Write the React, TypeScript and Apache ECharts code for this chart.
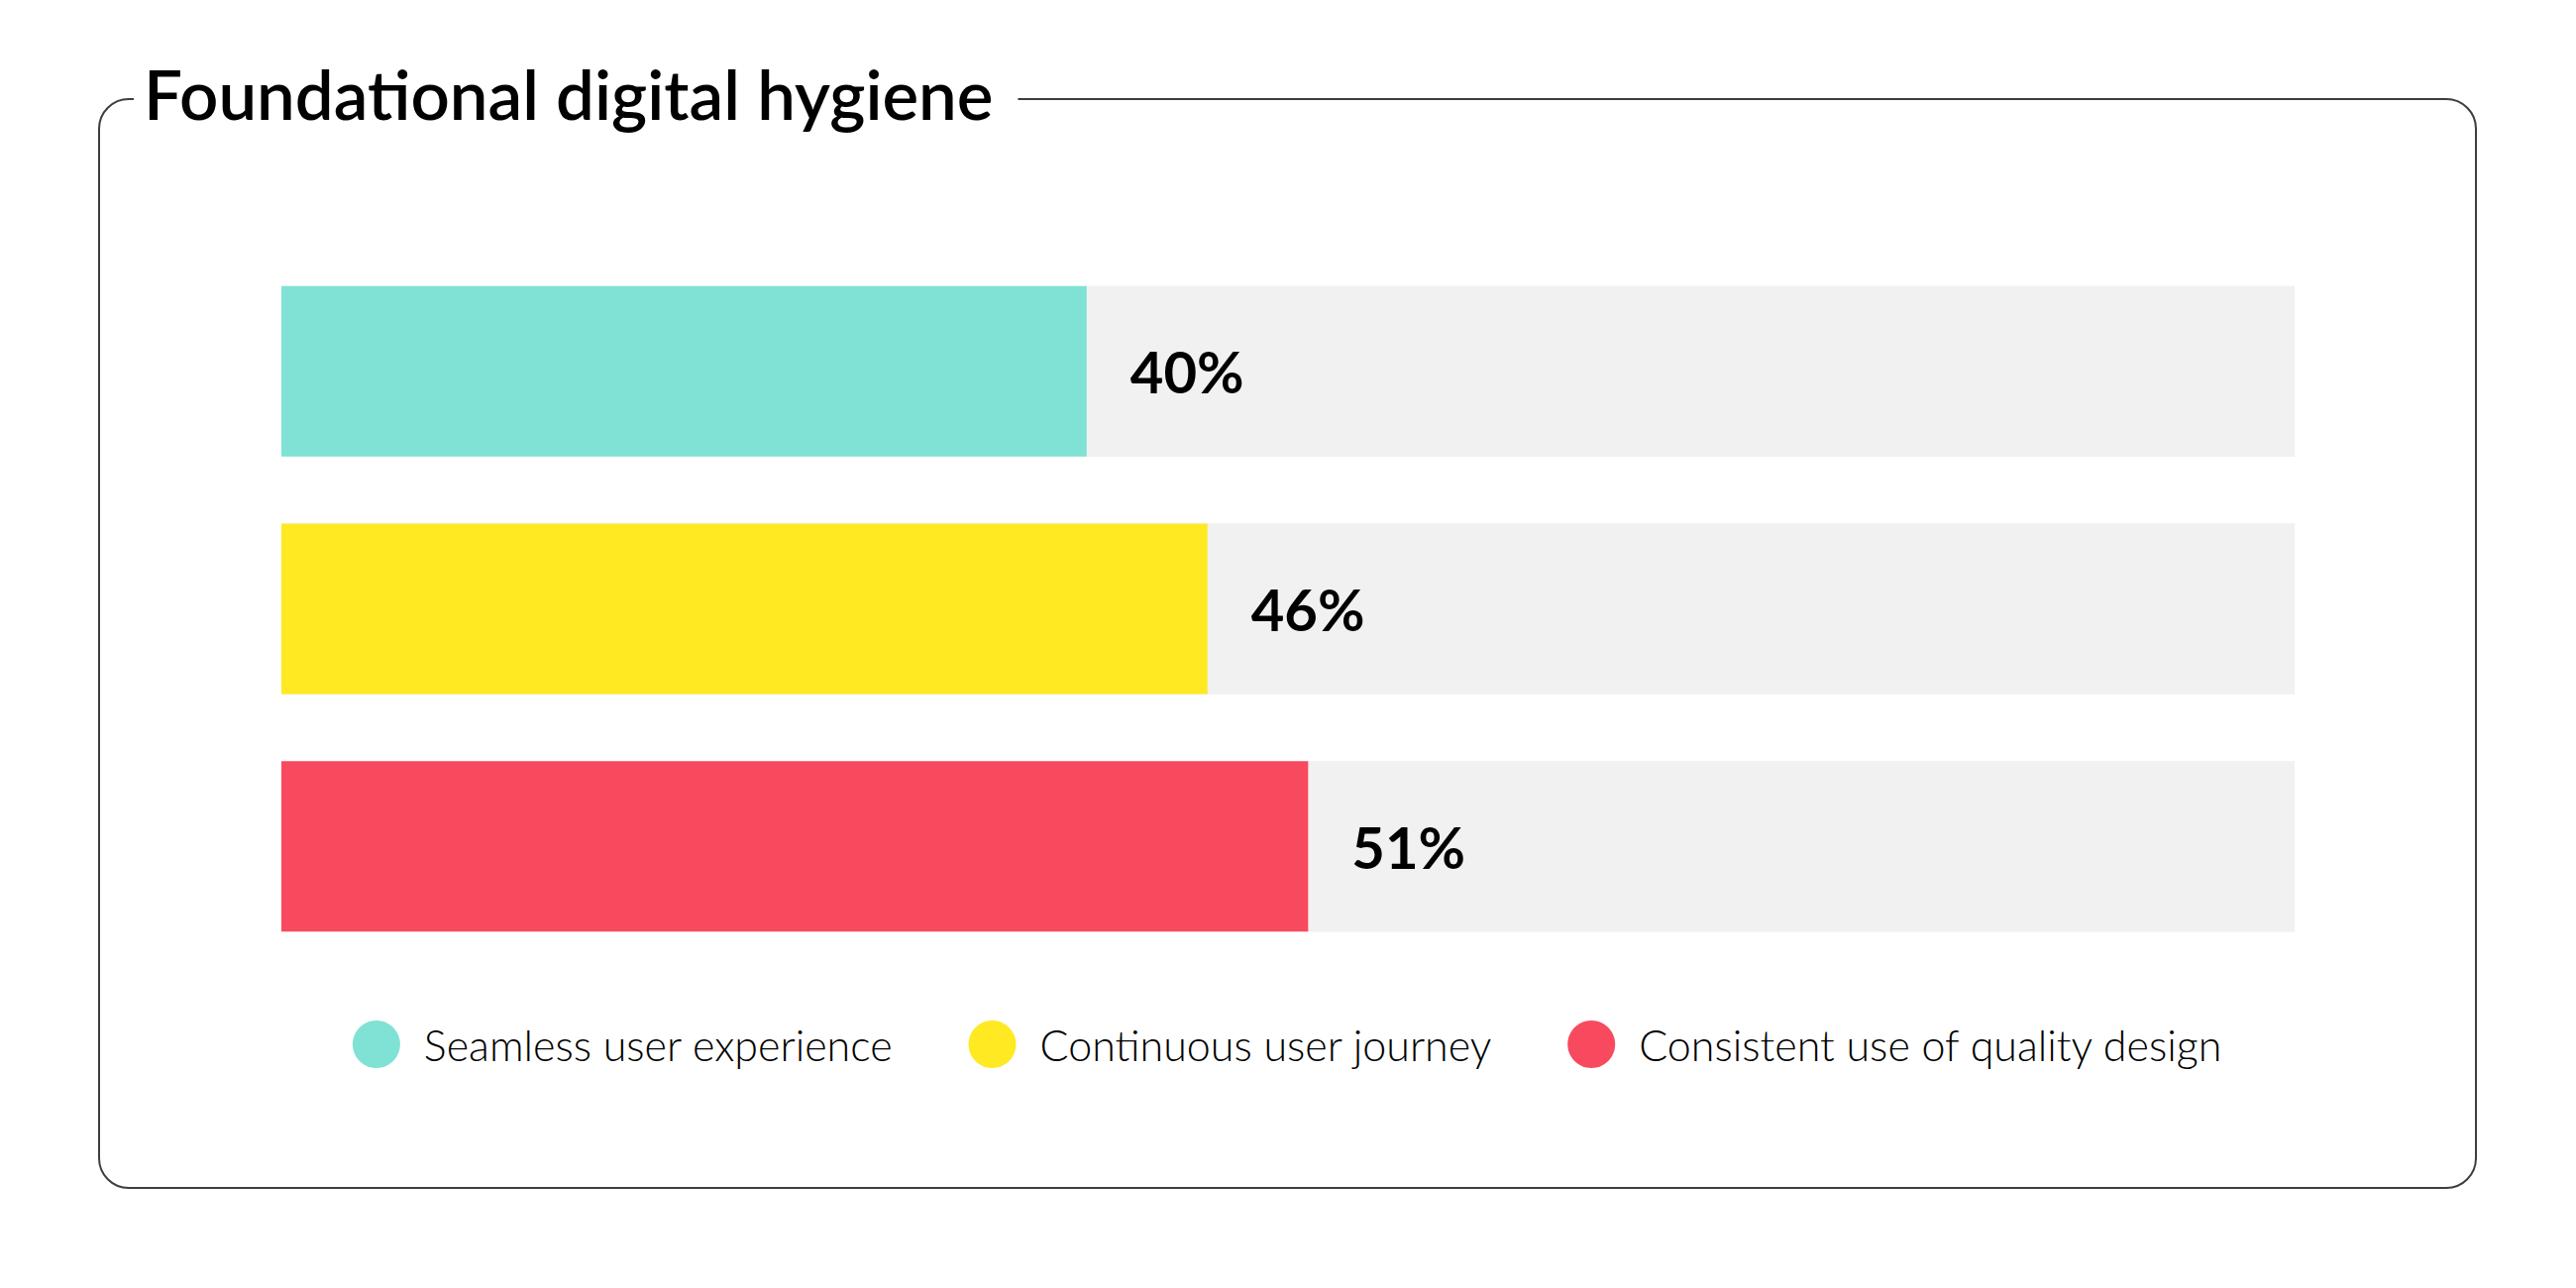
import React, { useEffect, useRef } from 'react';
import * as echarts from 'echarts';

const categories = ['Seamless user experience', 'Continuous user journey', 'Consistent use of quality design'];
const values = [40, 46, 51];
const colors = ['#7FE2D5', '#FFE923', '#F84A5E'];
const titleText = 'Foundational digital hygiene';

const FONT = 'Lato, "Noto Sans", sans-serif';

const App: React.FC = () => {
    const chartRef = useRef<HTMLDivElement>(null);

    useEffect(() => {
        document.body.style.margin = '0';
        if (!chartRef.current) return;

        const chart = echarts.init(chartRef.current, undefined, { renderer: 'svg' });

        // one series per category so that each bar has its own legend entry
        const series = categories.map((name, i) => ({
            name,
            type: 'bar',
            stack: 'total',
            barWidth: 172,
            showBackground: true,
            backgroundStyle: { color: '#F1F1F1' },
            itemStyle: { color: colors[i] },
            data: values.map((v, j) => (j === i ? v : '-')),
            label: {
                show: true,
                position: 'right',
                distance: 44,
                formatter: '{c}%',
                fontFamily: FONT,
                fontSize: 58,
                fontWeight: 'bold',
                color: '#000'
            }
        }));

        const option = {
            animation: false,
            title: {
                text: titleText,
                left: 135,
                top: 60,
                padding: [0, 25, 0, 10],
                backgroundColor: '#fff',
                z: 10,
                textStyle: {
                    fontFamily: FONT,
                    fontSize: 69,
                    lineHeight: 69,
                    fontWeight: 600,
                    color: '#000'
                }
            },
            graphic: [
                {
                    type: 'rect',
                    z: 0,
                    shape: { x: 100, y: 100, width: 2399, height: 1099, r: 30 },
                    style: { fill: 'none', stroke: '#3C3F41', lineWidth: 2 }
                }
            ],
            legend: {
                data: categories,
                left: 'center',
                top: 1030,
                padding: 0,
                itemGap: 76,
                itemWidth: 48,
                itemHeight: 48,
                icon: 'circle',
                textStyle: {
                    fontFamily: FONT,
                    fontSize: 43,
                    fontWeight: 300,
                    color: '#000',
                    padding: [0, 0, 0, 19]
                }
            },
            grid: {
                left: 284,
                right: 284,
                top: 255,
                height: 719
            },
            xAxis: {
                type: 'value',
                min: 0,
                max: 100,
                show: false
            },
            yAxis: {
                type: 'category',
                data: categories,
                inverse: true,
                show: false
            },
            series
        };

        chart.setOption(option);

        return () => {
            chart.dispose();
        };
    }, []);

    return <div ref={chartRef} style={{ width: 2600, height: 1300 }} />;
};

export default App;
